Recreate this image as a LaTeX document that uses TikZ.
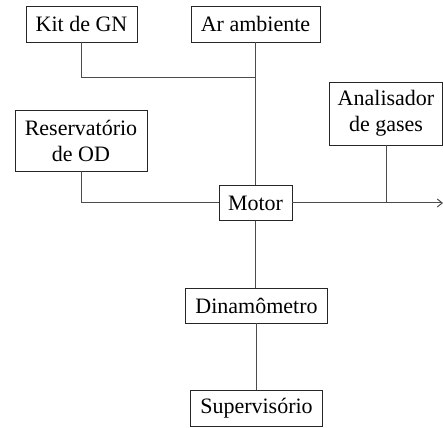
\documentclass[tikz,border=0pt]{standalone}
\usepackage{fontspec}
\setmainfont{Liberation Serif}
\usetikzlibrary{arrows.meta}
\begin{document}
\begin{tikzpicture}[x=1pt,y=1pt,
  blk/.style={draw=black!85,line width=0.9pt,fill=white,inner sep=0pt,align=center,
    font=\fontsize{22}{26}\selectfont},
  conn/.style={draw=black!70,line width=1pt}]
\useasboundingbox (0,0) rectangle (443,-427);
\node[blk,minimum width=111pt,minimum height=36pt] (kit) at (81.5,-24) {Kit de GN};
\node[blk,minimum width=129pt,minimum height=36pt] (ar) at (255.5,-24) {Ar ambiente};
\node[blk,minimum width=132pt,minimum height=61pt] (res) at (81,-140.5) {Reservatório\\de OD};
\node[blk,minimum width=113pt,minimum height=63pt] (ana) at (386,-113.5) {Analisador\\de gases};
\node[blk,minimum width=73pt,minimum height=35pt] (motor) at (255.5,-203) {Motor};
\node[blk,minimum width=142pt,minimum height=35pt] (dina) at (256.5,-305.5) {Dinamômetro};
\node[blk,minimum width=132pt,minimum height=36pt] (sup) at (256.5,-408) {Supervisório};
\coordinate (j1) at (255.5,-78);
\coordinate (out) at (443,-203);
\draw[conn] (kit.south) |- (j1);
\draw[conn] (ar.south) -- (motor.north);
\draw[conn] (res.south) |- (motor.west);
\draw[conn,-{Straight Barb[length=5pt,width=8pt]}] (motor.east) -- (out);
\draw[conn] (ana.south) -- (ana.south |- motor.east);
\draw[conn] (motor.south) -- (motor.south |- dina.north);
\draw[conn] (dina.south) -- (sup.north);
\end{tikzpicture}
\end{document}
